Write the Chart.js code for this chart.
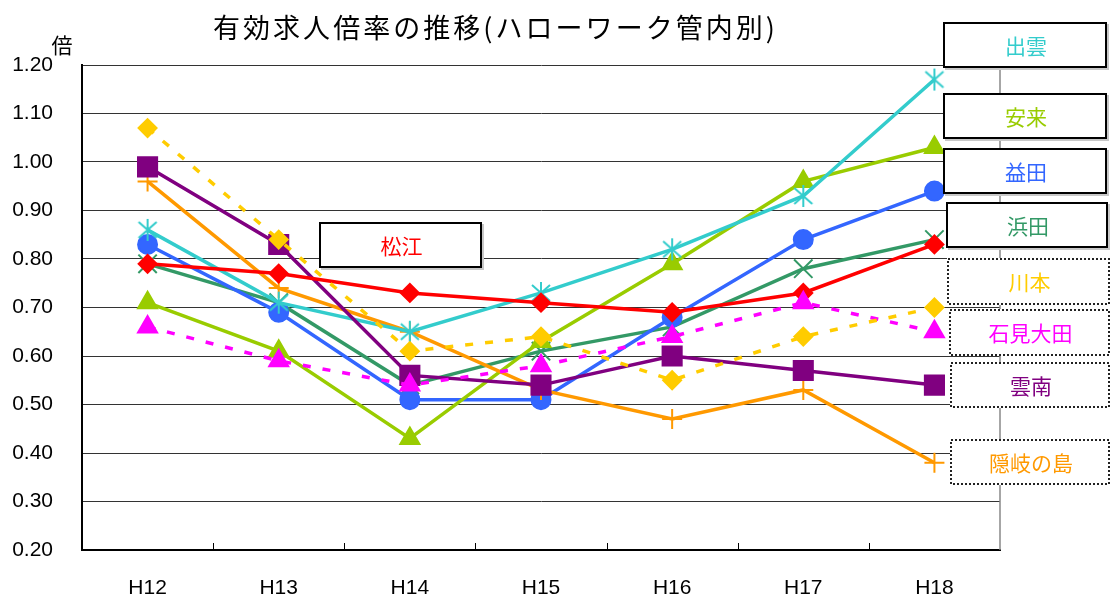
<!DOCTYPE html>
<html>
<head>
<meta charset="utf-8">
<script src="https://cdn.jsdelivr.net/npm/chart.js@4.4.0/dist/chart.umd.min.js"></script>
<style>
  html, body { margin: 0; padding: 0; background: #fff; }
</style>
</head>
<body>
<canvas id="myChart" width="1111" height="601"></canvas>
<script>
// categories and series values (有効求人倍率)
const years = ['H12', 'H13', 'H14', 'H15', 'H16', 'H17', 'H18'];
const matsue   = [0.79, 0.77, 0.73, 0.71, 0.69, 0.73, 0.83];
const izumo    = [0.86, 0.71, 0.65, 0.73, 0.82, 0.93, 1.17];
const yasugi   = [0.71, 0.61, 0.43, 0.63, 0.79, 0.96, 1.03];
const masuda   = [0.83, 0.69, 0.51, 0.51, 0.68, 0.84, 0.94];
const hamada   = [0.79, 0.71, 0.54, 0.61, 0.66, 0.78, 0.84];
const kawamoto = [1.07, 0.84, 0.61, 0.64, 0.55, 0.64, 0.70];
const ohda     = [0.66, 0.59, 0.54, 0.58, 0.64, 0.71, 0.65];
const unnan    = [0.99, 0.83, 0.56, 0.54, 0.60, 0.57, 0.54];
const oki      = [0.96, 0.74, 0.65, 0.53, 0.47, 0.53, 0.38];

// asterisk marker (vertical line + X), like the spreadsheet one
function makeAsterisk(color) {
    const c = document.createElement('canvas');
    c.width = 24; c.height = 24;
    const g = c.getContext('2d');
    g.strokeStyle = color;
    g.lineWidth = 2;
    g.beginPath();
    g.moveTo(12, 1); g.lineTo(12, 23);
    g.moveTo(3, 4); g.lineTo(21, 20);
    g.moveTo(21, 4); g.lineTo(3, 20);
    g.stroke();
    return c;
}

function series(label, data, color, style, radius, dashed) {
    return {
        label: label,
        data: data,
        borderColor: color,
        backgroundColor: color,
        borderWidth: 3.5,
        borderDash: dashed ? [8, 12] : [],
        pointStyle: style,
        pointRadius: radius,
        pointBackgroundColor: color,
        pointBorderColor: color,
        pointBorderWidth: 2,
        tension: 0
    };
}

// label boxes: [text, color, x, y, w, h, dotted]
const labelBoxes = [
    ['松江', '#FF0000', 319, 222, 163, 46, false],
    ['出雲', '#33CCCC', 943, 22, 164, 46, false],
    ['安来', '#99CC00', 943, 93, 164, 46, false],
    ['益田', '#3366FF', 943, 148, 164, 46, false],
    ['浜田', '#339966', 946, 202, 162, 46, false],
    ['川本', '#FFCC00', 947, 258, 163, 47, true],
    ['石見大田', '#FF00FF', 949, 309, 161, 47, true],
    ['雲南', '#800080', 950, 362, 160, 46, true],
    ['隠岐の島', '#FF9900', 950, 439, 160, 46, true]
];

const decorations = {
    id: 'decorations',
    beforeDatasetsDraw(chart) {
        const ctx = chart.ctx;
        const a = chart.chartArea;
        ctx.save();
        // right border of the plot (gray)
        ctx.strokeStyle = '#888';
        ctx.lineWidth = 1.5;
        ctx.beginPath();
        ctx.moveTo(a.right, a.top);
        ctx.lineTo(a.right, a.bottom);
        ctx.stroke();
        // small inward ticks between categories on the x axis
        const x = chart.scales.x;
        const step = x.getPixelForValue(1) - x.getPixelForValue(0);
        ctx.strokeStyle = '#000';
        ctx.lineWidth = 1;
        ctx.beginPath();
        for (let i = 1; i < years.length; i++) {
            const px = Math.round(x.getPixelForValue(i) - step / 2) + 0.5;
            ctx.moveTo(px, a.bottom);
            ctx.lineTo(px, a.bottom - 7);
        }
        ctx.stroke();
        ctx.restore();
    },
    afterDraw(chart) {
        const ctx = chart.ctx;
        ctx.save();
        // title
        const title = '有効求人倍率の推移(ハローワーク管内別)';
        ctx.font = '27px "Noto Sans CJK JP"';
        ctx.fillStyle = '#000';
        ctx.textBaseline = 'middle';
        const w = ctx.measureText(title).width;
        const target = 565;
        ctx.letterSpacing = Math.max(0, (target - w) / title.length) + 'px';
        ctx.textAlign = 'left';
        ctx.fillText(title, 213, 28);
        ctx.letterSpacing = '0px';
        // unit
        ctx.font = '21px "Noto Sans CJK JP"';
        ctx.textAlign = 'center';
        ctx.fillText('倍', 62, 45);
        // label boxes
        labelBoxes.forEach(b => {
            const [text, color, bx, by, bw, bh, dotted] = b;
            if (!dotted) {
                ctx.fillStyle = '#c8c8c8';
                ctx.fillRect(bx + 2, by + 2, bw, bh);
            }
            ctx.fillStyle = '#fff';
            ctx.fillRect(bx, by, bw, bh);
            ctx.strokeStyle = dotted ? '#222' : '#000';
            ctx.lineWidth = 2;
            ctx.setLineDash(dotted ? [2, 2] : []);
            ctx.strokeRect(bx + 1, by + 1, bw - 2, bh - 2);
            ctx.setLineDash([]);
            ctx.fillStyle = color;
            ctx.font = '21px "Noto Sans CJK JP"';
            ctx.textAlign = 'center';
            ctx.textBaseline = 'middle';
            ctx.fillText(text, bx + bw / 2 + 1, by + bh / 2 + 1);
        });
        ctx.restore();
    }
};

const ctx = document.getElementById('myChart').getContext('2d');
const myChart = new Chart(ctx, {
    type: 'line',
    data: {
        labels: years,
        datasets: [
            series('川本', kawamoto, '#FFCC00', 'rectRot', 9, true),
            series('石見大田', ohda, '#FF00FF', 'triangle', 11, true),
            series('松江', matsue, '#FF0000', 'rectRot', 9, false),
            series('雲南', unnan, '#800080', 'rect', 13.5, false),
            series('出雲', izumo, '#33CCCC', makeAsterisk('#33CCCC'), 12, false),
            series('隠岐の島', oki, '#FF9900', 'cross', 10, false),
            series('安来', yasugi, '#99CC00', 'triangle', 11, false),
            series('益田', masuda, '#3366FF', 'circle', 9.5, false),
            series('浜田', hamada, '#339966', 'crossRot', 13, false)
        ]
    },
    options: {
        responsive: false,
        animation: false,
        events: [],
        layout: {
            padding: { top: 65, right: 111, left: 0, bottom: 0 }
        },
        plugins: {
            legend: { display: false },
            tooltip: { enabled: false },
            title: { display: false }
        },
        scales: {
            x: {
                offset: true,
                grid: { display: false, drawTicks: false },
                border: { display: true, color: '#000', width: 2 },
                ticks: {
                    padding: 26,
                    color: '#000',
                    font: { family: 'Liberation Sans', size: 21 }
                },
                afterFit: function(scale) { scale.height = 51; }
            },
            y: {
                min: 0.2,
                max: 1.2,
                grid: { color: '#333', lineWidth: 1, drawTicks: false },
                border: { display: true, color: '#000', width: 2 },
                ticks: {
                    stepSize: 0.1,
                    padding: 29,
                    color: '#000',
                    font: { family: 'Liberation Sans', size: 21 },
                    callback: function(v) { return v.toFixed(2); }
                },
                afterFit: function(scale) { scale.width = 82; }
            }
        }
    },
    plugins: [decorations]
});
</script>
</body>
</html>
